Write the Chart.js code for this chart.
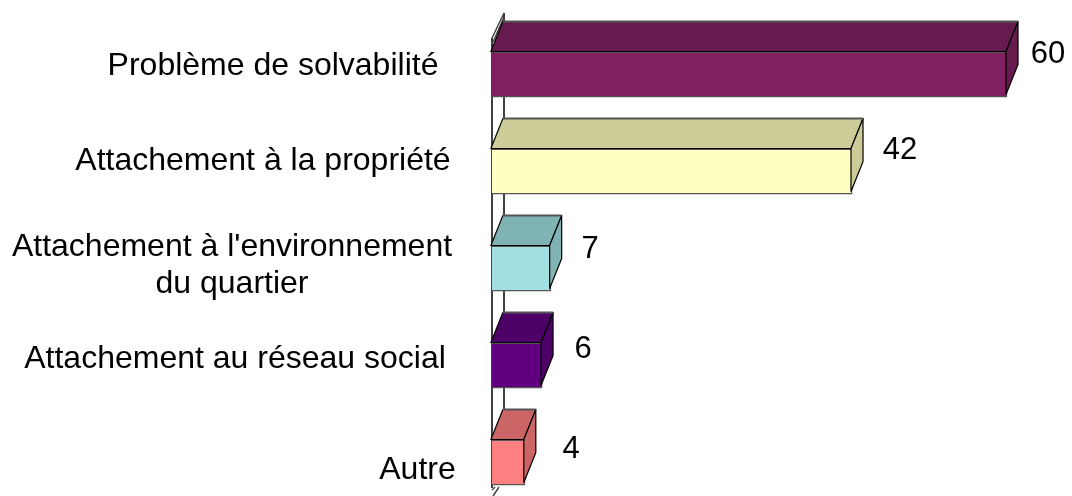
<!DOCTYPE html>
<html>
<head>
<meta charset="utf-8">
<title>Chart</title>
<script src="https://cdn.jsdelivr.net/npm/chart.js@4"></script>
<style>
  html, body { margin: 0; padding: 0; background: #fff; overflow: hidden; }
  canvas { display: block; }
</style>
</head>
<body>
<canvas id="chart" width="1072" height="511"></canvas>
<script>
'use strict';

var categories = [
  ['Problème de solvabilité'],
  ['Attachement à la propriété'],
  ["Attachement à l'environnement", 'du quartier'],
  ['Attachement au réseau social'],
  ['Autre']
];
var values = [60, 42, 7, 6, 4];

var frontColors = ['#802060', '#ffffc0', '#a0e0e0', '#600080', '#ff8080'];
var depthColors = ['#661a4d', '#cccc99', '#80b3b3', '#4d0066', '#cc6666'];

// the labels do not line up in the original, so each one has its own anchor
var labelCenterX = [273, 263, 232, 235, 417.5];
var labelBaseShift = [0.5, -2, -12.5, 2.5, 16];
var valueShift = [[40.5, -11.5], [47.5, -13], [39, -10.5], [40.5, -7.5], [45.7, -4.5]];

var depthX = 12;
var depthY = -30;
var sideHeight = 43;
var ridgeInset = 1.5;
var labelFont = '32px "Liberation Sans", Arial, sans-serif';
var valueFont = '31px "Liberation Sans", Arial, sans-serif';

function drawFace(c, points, fill) {
  c.beginPath();
  c.moveTo(points[0][0], points[0][1]);
  for (var i = 1; i < points.length; i++) {
    c.lineTo(points[i][0], points[i][1]);
  }
  c.closePath();
  c.fillStyle = fill;
  c.fill();
  c.strokeStyle = '#000';
  c.lineWidth = 1.2;
  c.stroke();
}

// thin back wall of the fake 3D plot
var wallPlugin = {
  id: 'wall',
  beforeDatasetsDraw: function (chart) {
    var c = chart.ctx;
    var left = chart.chartArea.left;
    c.save();
    c.strokeStyle = '#404040';
    c.lineWidth = 2;
    c.beginPath();
    c.moveTo(left, 38);
    c.lineTo(left, 488);
    c.moveTo(left + depthX, 13);
    c.lineTo(left + depthX, 420);
    c.stroke();
    c.lineWidth = 1.4;
    c.beginPath();
    c.moveTo(left, 38);
    c.lineTo(left + depthX, 13);
    c.moveTo(left + 1, 42);
    c.lineTo(left + depthX, 17);
    c.moveTo(left, 490);
    c.lineTo(left + 3, 487);
    c.moveTo(left + 1, 496);
    c.lineTo(left + 7, 487);
    c.stroke();
    c.restore();
  }
};

var depthPlugin = {
  id: 'depth',
  afterDatasetsDraw: function (chart) {
    var c = chart.ctx;
    var bars = chart.getDatasetMeta(0).data;
    c.save();
    c.lineJoin = 'round';
    for (var i = 0; i < bars.length; i++) {
      var b = bars[i];
      var top = b.y - b.height / 2;
      var ridge = b.x - ridgeInset;
      var backTop = top + depthY;
      drawFace(c, [[b.base, top], [b.base + depthX, backTop], [ridge + depthX, backTop], [ridge, top]], depthColors[i]);
      drawFace(c, [[ridge, top], [ridge + depthX, backTop], [ridge + depthX, backTop + sideHeight], [ridge, top + sideHeight]], depthColors[i]);
      // the far edge reads heavier and greyer than the inner ones
      c.strokeStyle = '#555';
      c.lineWidth = 2;
      c.beginPath();
      c.moveTo(b.base + depthX, backTop);
      c.lineTo(ridge + depthX, backTop);
      c.stroke();
    }
    c.restore();
  }
};

var labelPlugin = {
  id: 'textLabels',
  afterDraw: function (chart) {
    var c = chart.ctx;
    var bars = chart.getDatasetMeta(0).data;
    c.save();
    c.fillStyle = '#000';
    c.textAlign = 'center';
    c.textBaseline = 'alphabetic';
    for (var i = 0; i < bars.length; i++) {
      var lines = categories[i];
      c.font = labelFont;
      for (var j = 0; j < lines.length; j++) {
        c.fillText(lines[j], labelCenterX[i], bars[i].y + labelBaseShift[i] + j * 37);
      }
      c.font = valueFont;
      c.fillText(String(values[i]), bars[i].x + valueShift[i][0], bars[i].y + valueShift[i][1]);
    }
    c.restore();
  }
};

var ctx = document.getElementById('chart').getContext('2d');

var chart = new Chart(ctx, {
  type: 'bar',
  data: {
    labels: categories,
    datasets: [{
      data: values,
      backgroundColor: frontColors,
      borderColor: '#555',
      borderWidth: 1.4,
      barPercentage: 0.474,
      categoryPercentage: 1
    }]
  },
  options: {
    indexAxis: 'y',
    responsive: false,
    animation: false,
    layout: { padding: { left: 492, right: 64.5, top: 26, bottom: 0 } },
    plugins: { legend: { display: false }, tooltip: { enabled: false } },
    scales: {
      x: { display: false, min: 0.13, max: 60 },
      y: { display: false }
    }
  },
  plugins: [wallPlugin, depthPlugin, labelPlugin]
});
</script>
</body>
</html>
